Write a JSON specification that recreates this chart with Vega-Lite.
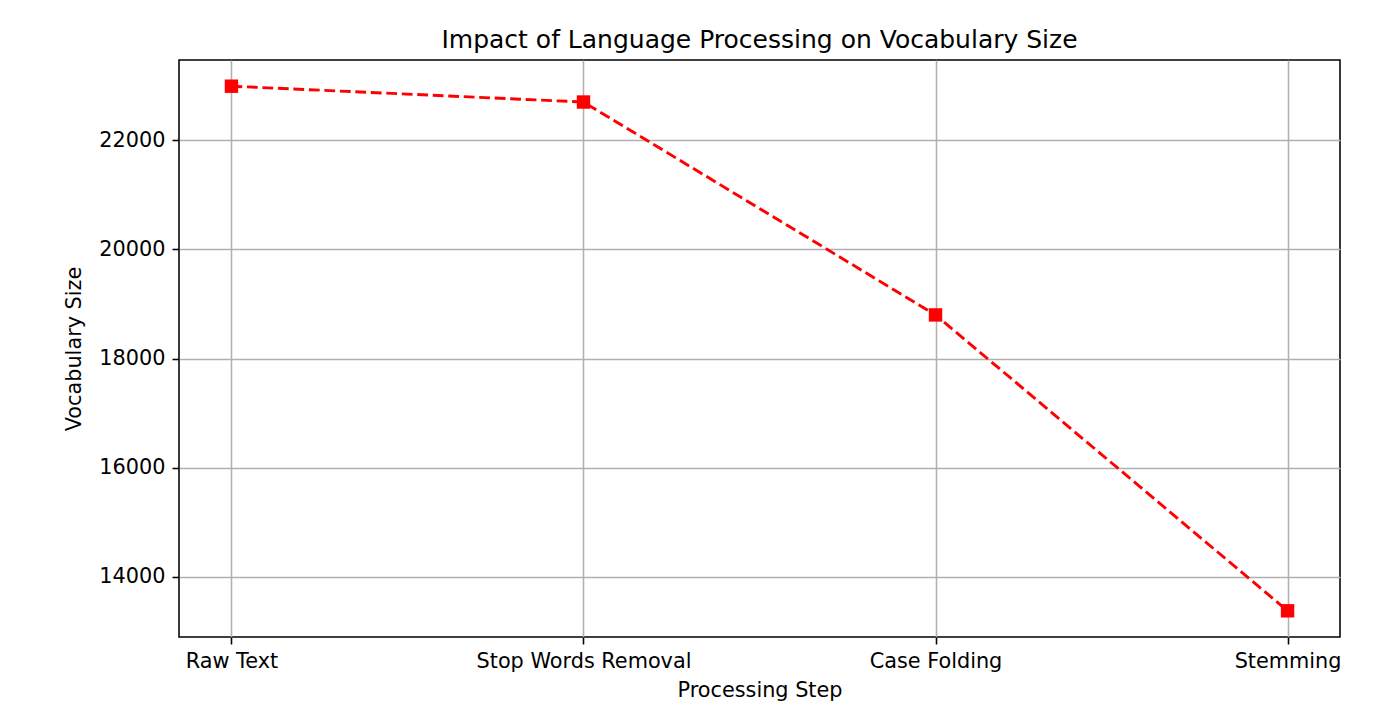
{
  "$schema": "https://vega.github.io/schema/vega-lite/v6.json",
  "width": 1161,
  "height": 577,
  "autosize": {"type": "none"},
  "padding": {"left": 179, "top": 60, "right": 57, "bottom": 75},
  "background": "white",
  "title": {
    "text": "Impact of Language Processing on Vocabulary Size",
    "font": "DejaVu Sans",
    "fontSize": 25,
    "fontWeight": "normal",
    "color": "black",
    "anchor": "middle",
    "offset": 7
  },
  "config": {
    "font": "DejaVu Sans",
    "view": {"stroke": "black", "strokeWidth": 1.55},
    "axis": {
      "labelFont": "DejaVu Sans",
      "labelFontSize": 20.8,
      "labelColor": "black",
      "labelLimit": 0,
      "titleFont": "DejaVu Sans",
      "titleFontSize": 20.8,
      "titleFontWeight": "normal",
      "titleColor": "black",
      "domain": false,
      "tickColor": "black",
      "tickSize": 7,
      "tickWidth": 1.55,
      "labelPadding": 7,
      "grid": true,
      "gridColor": "#b0b0b0",
      "gridWidth": 1.55
    }
  },
  "data": {
    "values": [
      {"step": "Raw Text", "vocab": 22990},
      {"step": "Stop Words Removal", "vocab": 22700},
      {"step": "Case Folding", "vocab": 18800},
      {"step": "Stemming", "vocab": 13380}
    ]
  },
  "encoding": {
    "x": {
      "field": "step",
      "type": "ordinal",
      "sort": null,
      "scale": {"type": "point", "padding": 0.149},
      "axis": {"title": "Processing Step", "labelAngle": 0, "titlePadding": 10}
    },
    "y": {
      "field": "vocab",
      "type": "quantitative",
      "scale": {"domain": [12900, 23470], "nice": false, "zero": false},
      "axis": {"title": "Vocabulary Size", "values": [14000, 16000, 18000, 20000, 22000], "format": "d", "titlePadding": 14}
    }
  },
  "layer": [
    {
      "mark": {"type": "line", "color": "#ff0000", "strokeWidth": 2.9, "strokeDash": [10.8, 4.7]}
    },
    {
      "mark": {"type": "point", "shape": "square", "filled": true, "color": "#ff0000", "size": 180, "opacity": 1}
    }
  ]
}
